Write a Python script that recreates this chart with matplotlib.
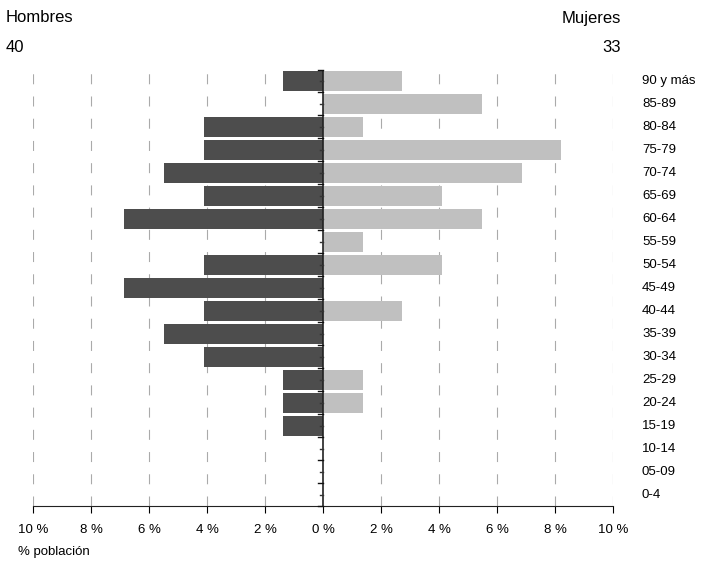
import numpy as np
import matplotlib
matplotlib.use("Agg")
import matplotlib.pyplot as plt

plt.rcParams['font.family'] = ['Liberation Sans', 'DejaVu Sans']

# age groups, bottom to top
grupos = ["0-4", "05-09", "10-14", "15-19", "20-24", "25-29", "30-34", "35-39",
          "40-44", "45-49", "50-54", "55-59", "60-64", "65-69", "70-74",
          "75-79", "80-84", "85-89", "90 y más"]
# % of total population
hombres = [0, 0, 0, 1.37, 1.37, 1.37, 4.11, 5.48, 4.11, 6.85, 4.11, 0,
           6.85, 4.11, 5.48, 4.11, 4.11, 0, 1.37]
mujeres = [0, 0, 0, 0, 1.37, 1.37, 0, 0, 2.74, 0, 4.11, 1.37,
           5.48, 4.11, 6.85, 8.22, 1.37, 5.48, 2.74]
total_h = 40
total_m = 33
xticks = [-10, -8, -6, -4, -2, 0, 2, 4, 6, 8, 10]

fig = plt.figure(figsize=(7.10, 5.63), dpi=100)
ax = fig.add_axes([33/710, 1 - 506/563, 580/710, 436.5/563])

y = np.arange(len(grupos))
ax.barh(y, -np.array(hombres), height=0.87, color='#4d4d4d', zorder=3)
ax.barh(y, mujeres, height=0.87, color='#c0c0c0', zorder=3)

ax.set_xlim(-10, 10)
ax.set_ylim(-0.5, len(grupos) - 0.5)

# dashed grid
for xv in xticks:
    if xv != 0:
        ax.axvline(xv, color='#aaaaaa', lw=0.8, ls=(0, (9, 11)), zorder=1)

for s in ['top', 'right', 'left']:
    ax.spines[s].set_visible(False)
ax.spines['bottom'].set_color('#222222')
ax.spines['bottom'].set_linewidth(0.8)
ax.axvline(0, color='#222222', lw=1.2, zorder=4)

ax.set_xticks(xticks)
ax.set_xticklabels([f"{abs(v)} %" for v in xticks], fontsize=9.5)
ax.tick_params(axis='x', direction='out', length=5, width=0.8, pad=8)

# center ticks
for b in np.arange(-0.5, len(grupos), 1):
    ax.plot([-0.17, 0], [b, b], color='#111111', lw=1, zorder=5, clip_on=False)
for c in y:
    ax.plot([-0.12, 0], [c, c], color='#333333', lw=1, zorder=5, clip_on=False)

ax.set_yticks([])
for c, g in zip(y, grupos):
    ax.text(11.0, c, g, fontsize=9.5, va='center', ha='left')

fig.text(6/710, 1 - 18/563, "Hombres", fontsize=12, va='center', ha='left')
fig.text(6/710, 1 - 48/563, str(total_h), fontsize=12, va='center', ha='left')
fig.text(621/710, 1 - 18/563, "Mujeres", fontsize=12, va='center', ha='right')
fig.text(621/710, 1 - 48/563, str(total_m), fontsize=12, va='center', ha='right')
fig.text(18/710, 1 - 552/563, "% población", fontsize=9.5, va='center', ha='left')

fig.savefig("out.png", dpi=100)
